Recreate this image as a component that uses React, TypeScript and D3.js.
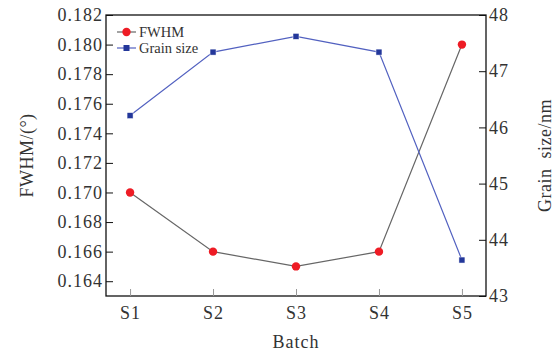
import React, { useEffect, useRef } from 'react'
import * as d3 from 'd3'

const batches = ['S1', 'S2', 'S3', 'S4', 'S5']
const fwhm = [0.170, 0.166, 0.165, 0.166, 0.180]
const grainSize = [46.21, 47.34, 47.62, 47.34, 43.64]
const leftTicks = [0.164, 0.166, 0.168, 0.170, 0.172, 0.174, 0.176, 0.178, 0.180, 0.182]
const rightTicks = [43, 44, 45, 46, 47, 48]

const width = 554
const height = 354
const margin = { top: 15, right: 68, bottom: 58, left: 106 }
const font = '"Liberation Serif", "DejaVu Serif", serif'
const textColor = '#333'

const App = () => {
  const ref = useRef<SVGSVGElement>(null)

  useEffect(() => {
    const svg = d3.select(ref.current)
    svg.selectAll('*').remove()

    const x = d3.scalePoint<string>()
      .domain(batches)
      .range([margin.left, width - margin.right])
      .padding(0.29)
    const yL = d3.scaleLinear().domain([0.163, 0.182]).range([height - margin.bottom, margin.top])
    const yR = d3.scaleLinear().domain([43, 48]).range([height - margin.bottom, margin.top])

    const x0 = margin.left
    const x1 = width - margin.right
    const y0 = height - margin.bottom
    const y1 = margin.top

    // frame
    svg.append('rect')
      .attr('x', x0).attr('y', y1)
      .attr('width', x1 - x0).attr('height', y0 - y1)
      .attr('fill', 'none').attr('stroke', '#111').attr('stroke-width', 1.3)

    // left axis
    const gL = svg.append('g')
      .attr('transform', `translate(${x0},0)`)
      .call(d3.axisLeft(yL).tickValues(leftTicks).tickFormat(d3.format('.3f')).tickSize(-7).tickPadding(3))
    gL.select('.domain').remove()

    // right axis
    const gR = svg.append('g')
      .attr('transform', `translate(${x1},0)`)
      .call(d3.axisRight(yR).tickValues(rightTicks).tickFormat(d3.format('d')).tickSize(-7).tickPadding(3))
    gR.select('.domain').remove()

    // bottom axis
    const gB = svg.append('g')
      .attr('transform', `translate(0,${y0})`)
      .call(d3.axisBottom(x).tickSize(-7).tickPadding(10))
    gB.select('.domain').remove()
    gB.selectAll('.tick line').attr('stroke', '#999')

    svg.selectAll('.tick text')
      .attr('font-family', font).attr('font-size', 18).attr('letter-spacing', 1)
      .attr('fill', textColor)
    gL.selectAll('.tick line').attr('stroke', '#111')
    gR.selectAll('.tick line').attr('stroke', '#111')

    // axis titles
    svg.append('text')
      .attr('transform', `translate(33,${(y0 + y1) / 2}) rotate(-90)`)
      .attr('text-anchor', 'middle')
      .attr('font-family', font).attr('font-size', 18).attr('letter-spacing', 0.5).attr('fill', textColor)
      .text('FWHM/(°)')
    svg.append('text')
      .attr('transform', `translate(551,${(y0 + y1) / 2}) rotate(-90)`)
      .attr('text-anchor', 'middle')
      .attr('font-family', font).attr('font-size', 18).attr('letter-spacing', 0.5).attr('fill', textColor)
      .attr('xml:space', 'preserve')
      .style('white-space', 'pre')
      .text('Grain  size/nm')
    svg.append('text')
      .attr('x', (x0 + x1) / 2).attr('y', 348)
      .attr('text-anchor', 'middle')
      .attr('font-family', font).attr('font-size', 18).attr('letter-spacing', 1).attr('fill', textColor)
      .text('Batch')

    // FWHM series
    const lineL = d3.line<number>().x((d, i) => x(batches[i]) as number).y(d => yL(d))
    svg.append('path')
      .attr('d', lineL(fwhm))
      .attr('fill', 'none').attr('stroke', '#666').attr('stroke-width', 1.2)
    svg.selectAll('circle.fwhm')
      .data(fwhm).enter().append('circle')
      .attr('class', 'fwhm')
      .attr('cx', (d, i) => x(batches[i]) as number)
      .attr('cy', d => yL(d))
      .attr('r', 4.2)
      .attr('fill', '#ee1c25')

    // grain size series
    const lineR = d3.line<number>().x((d, i) => x(batches[i]) as number).y(d => yR(d))
    svg.append('path')
      .attr('d', lineR(grainSize))
      .attr('fill', 'none').attr('stroke', '#5261c0').attr('stroke-width', 1.2)
    const s = 6
    svg.selectAll('rect.grain')
      .data(grainSize).enter().append('rect')
      .attr('class', 'grain')
      .attr('x', (d, i) => (x(batches[i]) as number) - s / 2)
      .attr('y', d => yR(d) - s / 2)
      .attr('width', s).attr('height', s)
      .attr('fill', '#23379a').attr('stroke', '#fff').attr('stroke-width', 0.5)

    // legend
    const legend = svg.append('g').attr('transform', `translate(117,32)`)
    const rowH = 16
    legend.append('line').attr('x1', 0).attr('x2', 19).attr('y1', 0).attr('y2', 0)
      .attr('stroke', '#666').attr('stroke-width', 1.2)
    legend.append('circle').attr('cx', 9.5).attr('cy', 0).attr('r', 4.2).attr('fill', '#ee1c25')
    legend.append('text').attr('x', 22).attr('y', 5)
      .attr('font-family', font).attr('font-size', 14.5).attr('fill', textColor).text('FWHM')
    legend.append('line').attr('x1', 0).attr('x2', 19).attr('y1', rowH).attr('y2', rowH)
      .attr('stroke', '#5261c0').attr('stroke-width', 1.2)
    legend.append('rect').attr('x', 9.5 - s / 2).attr('y', rowH - s / 2).attr('width', s).attr('height', s)
      .attr('fill', '#23379a')
    legend.append('text').attr('x', 22).attr('y', rowH + 5)
      .attr('font-family', font).attr('font-size', 14.5).attr('fill', textColor).text('Grain size')
  }, [])

  return (
    <svg
      ref={ref}
      width={width}
      height={height}
      style={{ position: 'absolute', left: 0, top: 0, display: 'block' }}
    />
  )
}

export default App
